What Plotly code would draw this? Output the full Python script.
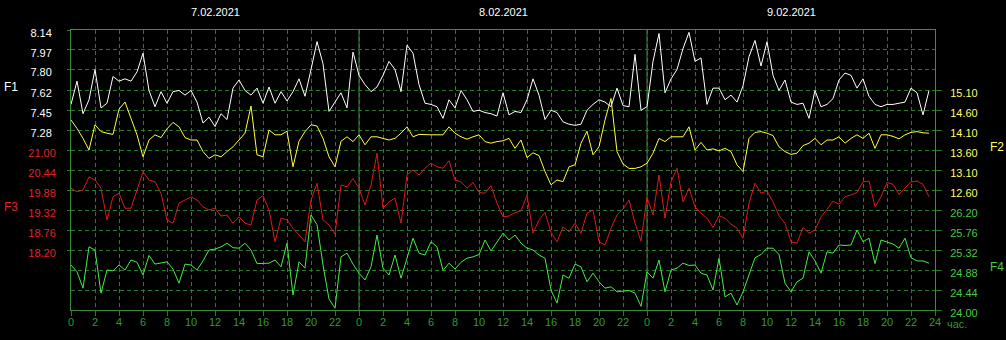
import numpy as np
import plotly.graph_objects as go

# ---------------- data (30-minute samples over three days) ----------------
hours = np.arange(0, 72, 0.5)

f1 = [7.50, 7.70, 7.42, 7.54, 7.80, 7.47, 7.51, 7.74, 7.70, 7.72, 7.70, 7.78, 7.94, 7.62, 7.48, 7.61,
      7.51, 7.61, 7.62, 7.58, 7.62, 7.52, 7.34, 7.39, 7.31, 7.42, 7.37, 7.64, 7.71, 7.62, 7.58, 7.64,
      7.51, 7.65, 7.51, 7.61, 7.53, 7.61, 7.72, 7.57, 7.80, 8.04, 7.85, 7.44, 7.52, 7.60, 7.47, 7.95,
      7.75, 7.67, 7.61, 7.65, 7.75, 7.87, 7.80, 7.61, 8.01, 7.94, 7.67, 7.51, 7.50, 7.48, 7.38, 7.54,
      7.47, 7.62, 7.54, 7.44, 7.45, 7.43, 7.42, 7.40, 7.60, 7.41, 7.44, 7.43, 7.54, 7.72, 7.58, 7.37,
      7.45, 7.43, 7.35, 7.33, 7.32, 7.33, 7.45, 7.50, 7.54, 7.52, 7.48, 7.64, 7.49, 7.48, 7.93, 7.45,
      7.48, 7.87, 8.11, 7.60, 7.72, 7.80, 7.98, 8.12, 7.87, 7.90, 7.50, 7.64, 7.64, 7.54, 7.58, 7.52,
      7.66, 7.91, 8.05, 7.83, 8.04, 7.75, 7.62, 7.71, 7.52, 7.50, 7.51, 7.38, 7.62, 7.48, 7.50, 7.55,
      7.71, 7.77, 7.75, 7.64, 7.72, 7.57, 7.50, 7.48, 7.50, 7.50, 7.51, 7.52, 7.64, 7.60, 7.41, 7.62]

f2 = [14.35, 14.14, 13.89, 13.60, 14.23, 14.06, 14.02, 13.99, 14.62, 14.80, 14.39, 13.98, 13.43, 13.85, 13.98, 13.91,
      14.13, 14.29, 14.18, 13.91, 13.85, 13.85, 13.56, 13.39, 13.48, 13.43, 13.56, 13.68, 13.85, 14.02, 14.70, 13.48,
      13.43, 14.10, 13.98, 13.98, 14.07, 13.18, 13.82, 14.06, 14.23, 14.20, 13.89, 13.43, 13.18, 13.82, 13.93, 13.81,
      13.98, 13.73, 13.93, 13.93, 13.89, 13.85, 13.89, 14.02, 14.18, 13.93, 13.99, 13.98, 13.98, 13.98, 13.98, 14.18,
      14.02, 13.93, 13.87, 13.93, 13.98, 13.81, 13.77, 13.81, 13.83, 13.89, 13.64, 13.85, 13.41, 13.53, 13.46, 13.06,
      12.73, 12.85, 12.81, 13.18, 13.23, 13.77, 14.07, 13.48, 13.68, 14.35, 14.89, 13.56, 13.25, 13.14, 13.14, 13.18,
      13.27, 13.52, 13.89, 13.81, 13.93, 13.93, 13.93, 14.18, 13.60, 13.79, 13.60, 13.63, 13.58, 13.64, 13.56, 13.23,
      13.06, 13.89, 14.04, 14.06, 14.02, 13.96, 13.68, 13.56, 13.49, 13.52, 13.71, 13.77, 13.89, 13.73, 13.85, 13.85,
      13.93, 13.77, 13.89, 13.98, 13.89, 14.02, 13.64, 13.98, 13.98, 13.94, 13.88, 13.98, 14.04, 14.06, 14.03, 14.02]

f3 = [19.93, 19.83, 19.88, 20.25, 20.16, 19.93, 19.04, 19.69, 19.79, 19.37, 19.37, 19.88, 20.39, 20.16, 20.11, 19.79,
      19.04, 18.95, 19.51, 19.60, 19.69, 19.60, 19.41, 19.32, 19.37, 19.15, 19.18, 18.95, 19.13, 18.95, 18.90, 19.60,
      19.72, 19.32, 18.43, 19.09, 19.04, 18.81, 18.62, 18.43, 19.60, 20.07, 19.04, 18.90, 18.64, 20.02, 19.97, 20.20,
      19.93, 19.46, 20.02, 20.91, 19.37, 19.55, 19.65, 18.95, 20.30, 20.44, 20.30, 20.49, 20.63, 20.53, 20.49, 20.70,
      20.16, 20.11, 19.93, 20.09, 19.81, 19.79, 20.00, 19.51, 19.13, 19.15, 19.25, 19.29, 19.74, 18.67, 19.04, 19.25,
      18.69, 18.43, 18.85, 18.71, 18.95, 18.67, 19.23, 19.32, 18.43, 18.34, 18.81, 19.18, 19.35, 19.60, 18.95, 18.45,
      19.67, 19.18, 20.30, 19.09, 20.11, 20.49, 19.55, 19.93, 19.41, 19.23, 19.09, 18.83, 19.16, 19.09, 18.92, 18.81,
      18.53, 19.51, 20.07, 19.79, 19.85, 19.55, 19.16, 18.95, 18.43, 18.39, 18.83, 18.67, 18.76, 19.13, 19.34, 19.57,
      19.48, 19.69, 19.74, 19.81, 20.11, 20.13, 19.41, 19.69, 20.09, 20.04, 19.76, 19.93, 20.11, 20.13, 20.04, 19.69]

f4 = [24.99, 24.84, 24.48, 25.39, 25.32, 24.37, 24.88, 24.86, 24.99, 24.88, 25.10, 25.05, 24.77, 25.20, 25.01, 25.03,
      25.06, 24.90, 24.59, 25.01, 24.99, 24.88, 25.08, 25.32, 25.34, 25.39, 25.47, 25.37, 25.36, 25.47, 25.32, 25.02,
      25.03, 25.03, 25.10, 24.95, 25.47, 24.33, 25.06, 24.92, 26.09, 25.88, 24.99, 24.24, 24.04, 25.17, 25.25, 25.01,
      24.81, 24.66, 24.95, 25.65, 24.92, 24.77, 25.21, 24.70, 25.14, 25.58, 25.25, 25.21, 25.50, 25.39, 24.87, 25.03,
      24.90, 25.05, 25.14, 25.17, 25.22, 25.54, 25.30, 25.50, 25.69, 25.54, 25.65, 25.47, 25.36, 25.32, 25.21, 25.14,
      24.44, 24.15, 24.77, 24.70, 25.01, 24.95, 24.62, 24.81, 24.62, 24.48, 24.51, 24.40, 24.42, 24.43, 24.37, 24.08,
      24.84, 24.70, 25.10, 24.40, 24.88, 24.92, 25.03, 24.98, 24.99, 24.81, 24.77, 24.44, 25.14, 24.29, 24.37, 24.11,
      24.40, 24.76, 25.15, 25.22, 25.36, 25.36, 25.22, 24.59, 24.40, 24.62, 24.70, 25.28, 25.08, 24.81, 25.28, 25.25,
      25.43, 25.42, 25.43, 25.76, 25.50, 25.58, 25.02, 25.54, 25.50, 25.45, 25.36, 25.58, 25.15, 25.08, 25.08, 25.03]

dates = ["7.02.2021", "8.02.2021", "9.02.2021"]
day_centers = [12, 36, 60]
day_bounds = [24, 48]

x_ticks = list(range(0, 73, 2))
x_ticktext = [str(h % 24) for h in x_ticks[:-1]] + ["24"]

f1_ticks = [8.14, 7.97, 7.80, 7.62, 7.45, 7.28]
f3_ticks = [21.00, 20.44, 19.88, 19.32, 18.76, 18.20]
f2_ticks = [15.10, 14.60, 14.10, 13.60, 13.10, 12.60]
f4_ticks = [26.20, 25.76, 25.32, 24.88, 24.44, 24.00]

# ---------------- style ----------------
BG = "#000000"
GRID = "#2a7a2a"
FRAME = "#3d8d3d"
XLAB = "#339933"
C1, C2, C3, C4 = "#ffffff", "#ffff40", "#e01818", "#44ee44"
L1, L2, L3, L4 = "#ffffff", "#ffff66", "#e02424", "#44cc44"
FONT = "Arial, Liberation Sans, sans-serif"
N = 14  # grid intervals

fig = go.Figure()
fig.add_trace(go.Scatter(x=hours, y=f1, mode="lines", line=dict(color=C1, width=1), yaxis="y", name="F1"))
fig.add_trace(go.Scatter(x=hours, y=f2, mode="lines", line=dict(color=C2, width=1), yaxis="y2", name="F2"))
fig.add_trace(go.Scatter(x=hours, y=f3, mode="lines", line=dict(color=C3, width=1), yaxis="y3", name="F3"))
fig.add_trace(go.Scatter(x=hours, y=f4, mode="lines", line=dict(color=C4, width=1), yaxis="y4", name="F4"))

step1 = (f1_ticks[0] - f1_ticks[-1]) / 5
step2 = (f2_ticks[0] - f2_ticks[-1]) / 5
step3 = (f3_ticks[0] - f3_ticks[-1]) / 5
step4 = (f4_ticks[0] - f4_ticks[-1]) / 5

r1 = [f1_ticks[0] - N * step1, f1_ticks[0]]
r3_top = f3_ticks[0] + 6 * step3
r3 = [r3_top - N * step3, r3_top]
r2_top = f2_ticks[0] + 3 * step2
r2 = [r2_top - N * step2, r2_top]
r4 = [f4_ticks[-1], f4_ticks[-1] + N * step4]

common_y = dict(
    tickmode="array", tickformat=".2f", ticks="outside", tickcolor=GRID,
    zeroline=False, gridcolor=GRID, griddash="4px,3px", gridwidth=1,
    ticklabelshift=3, automargin=False,
)

fig.update_layout(
    width=1006, height=340,
    margin=dict(l=71, r=71, t=30, b=30, autoexpand=False),
    paper_bgcolor=BG, plot_bgcolor=BG,
    showlegend=False,
    font=dict(family=FONT, size=11, color="#ffffff"),
    xaxis=dict(
        range=[0, 72], tickmode="array", tickvals=x_ticks, ticktext=x_ticktext,
        showgrid=True, gridcolor=GRID, griddash="4px,3px", gridwidth=1,
        ticks="outside", ticklen=5, tickcolor=GRID, ticklabelstandoff=-3,
        tickfont=dict(color=XLAB, size=11, family=FONT),
        showline=True, linecolor=FRAME, linewidth=1, mirror=True,
        zeroline=False, automargin=False,
    ),
    yaxis=dict(
        range=r1, tickvals=f1_ticks, side="left", ticklen=3, ticklabelstandoff=13,
        tickfont=dict(color=L1, size=11, family=FONT), showgrid=True,
        showline=True, linecolor=FRAME, linewidth=1, mirror=True, **common_y,
    ),
    yaxis3=dict(
        range=r3, tickvals=f3_ticks, side="left", overlaying="y", ticklen=3, ticklabelstandoff=9,
        tickfont=dict(color=L3, size=11, family=FONT), showgrid=True, showline=False, **common_y,
    ),
    yaxis2=dict(
        range=r2, tickvals=f2_ticks, side="right", overlaying="y", ticklen=6, ticklabelstandoff=6,
        tickfont=dict(color=L2, size=11, family=FONT), showgrid=False, showline=False, **common_y,
    ),
    yaxis4=dict(
        range=r4, tickvals=f4_ticks, side="right", overlaying="y", ticklen=6, ticklabelstandoff=6,
        tickfont=dict(color=L4, size=11, family=FONT), showgrid=True, showline=False, **common_y,
    ),
)

for b in day_bounds:
    fig.add_shape(type="line", xref="x", yref="paper", x0=b, x1=b, y0=0, y1=1,
                  line=dict(color=FRAME, width=1), layer="between")

for d, c in zip(dates, day_centers):
    fig.add_annotation(x=c, y=1.064, xref="x", yref="paper", text=d, showarrow=False,
                       xanchor="center", yanchor="middle",
                       font=dict(color="#ffffff", size=11, family=FONT))

fig.add_annotation(x=72, y=-0.05, xref="x", yref="paper", text="час.", showarrow=False,
                   xanchor="left", yanchor="middle", xshift=10,
                   font=dict(color=XLAB, size=11, family=FONT))

series_labels = [("F1", -0.0694, 0.796, L1), ("F3", -0.0694, 0.368, L3),
                 ("F2", 1.0718, 0.582, L2), ("F4", 1.0718, 0.154, L4)]
for t, xp, yp, col in series_labels:
    fig.add_annotation(x=xp, y=yp, xref="paper", yref="paper", text=t, showarrow=False,
                       xanchor="center", yanchor="middle",
                       font=dict(color=col, size=12, family=FONT))

fig.write_html(
    "out.html",
    config={"displayModeBar": False},
    post_script="document.body.style.margin='0px';document.body.style.overflow='hidden';",
)
